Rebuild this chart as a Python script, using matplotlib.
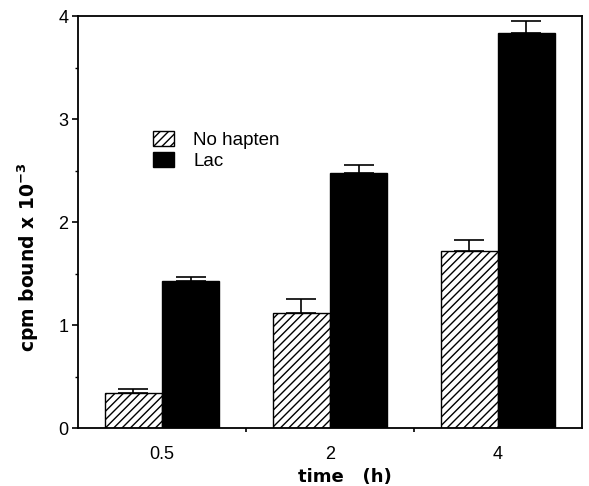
import matplotlib
matplotlib.use("Agg")
import matplotlib.pyplot as plt
import numpy as np

plt.rcParams['font.family'] = ['Liberation Sans', 'DejaVu Sans']
plt.rcParams['hatch.linewidth'] = 1.0

categories = ["0.5", "2", "4"]
series_names = ["No hapten", "Lac"]
no_hapten = [0.34, 1.12, 1.72]
no_hapten_err = [0.04, 0.13, 0.11]
lac = [1.43, 2.48, 3.84]
lac_err = [0.04, 0.07, 0.11]

fig = plt.figure(figsize=(5.89, 4.86), dpi=100)
ax = fig.add_axes([0.1324, 0.1193, 0.8556, 0.8477])

x = np.arange(len(categories))
w = 0.34
ax.bar(x - w/2, no_hapten, width=w, facecolor='white', edgecolor='black',
       hatch='////', linewidth=1.0, label=series_names[0],
       yerr=[np.zeros(3), no_hapten_err], capsize=11,
       error_kw=dict(ecolor='black', elinewidth=1.2, capthick=1.2))
ax.bar(x + w/2, lac, width=w, facecolor='black', edgecolor='black',
       linewidth=1.0, label=series_names[1],
       yerr=[np.zeros(3), lac_err], capsize=11,
       error_kw=dict(ecolor='black', elinewidth=1.2, capthick=1.2))

ax.set_xlim(-0.5, 2.5)
ax.set_ylim(0, 4)

ax.set_yticks([0, 1, 2, 3, 4])
ax.set_yticks(np.arange(0.5, 4, 1.0), minor=True)
ax.tick_params(axis='y', which='major', direction='out', length=4, width=1.2,
               labelsize=13, pad=3)
ax.tick_params(axis='y', which='minor', direction='out', length=2, width=1.0)

ax.set_xticks([0.5, 1.5])
ax.set_xticklabels([])
ax.set_xticks(x, minor=True)
ax.set_xticklabels(categories, minor=True)
ax.tick_params(axis='x', which='major', direction='out', length=3, width=1.2)
ax.tick_params(axis='x', which='minor', length=0, labelsize=13, pad=13)

for s in ax.spines.values():
    s.set_linewidth(1.3)

fig.text(0.585, 0.018, "time   (h)", fontsize=13, fontweight='bold',
         family=['DejaVu Sans'], ha='center', va='center')
fig.text(0.048, 0.47, "cpm bound x 10$^{\\mathbf{-3}}$", fontsize=13.5,
         fontweight='bold', family=['DejaVu Sans'], rotation=90,
         ha='center', va='center')

ax.legend(loc='upper left', bbox_to_anchor=(0.149, 0.72), frameon=False,
          prop={'size': 13.5}, handlelength=1.1, handleheight=0.85,
          handletextpad=1.05, borderpad=0, borderaxespad=0, labelspacing=0.15)

fig.savefig("out.png", dpi=100)
